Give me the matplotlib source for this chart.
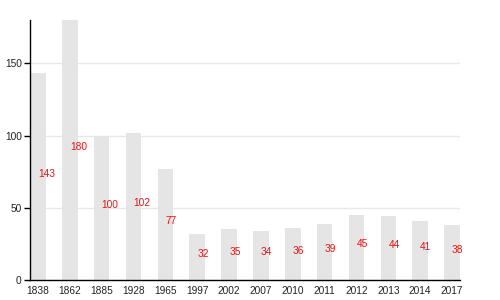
import matplotlib
matplotlib.use("Agg")
import matplotlib.pyplot as plt

years = ["1838", "1862", "1885", "1928", "1965", "1997", "2002", "2007",
         "2010", "2011", "2012", "2013", "2014", "2017"]
values = [143, 180, 100, 102, 77, 32, 35, 34, 36, 39, 45, 44, 41, 38]
yticks = [0, 50, 100, 150]

plt.rcParams['font.family'] = ['Liberation Sans', 'DejaVu Sans']

fig = plt.figure(figsize=(5, 3), dpi=100)
ax = fig.add_axes([0.06, 0.0667, 0.86, 0.8666])

x = list(range(len(years)))
ax.bar(x, values, width=0.49, color='#e5e5e5', zorder=2)
for xi, v in zip(x, values):
    ax.text(xi, v / 2, str(v), color='#f01010', fontsize=7.3,
            ha='left', va='baseline', zorder=3)

ax.set_xlim(-0.25, 13.25)
ax.set_ylim(0, 180)
ax.set_xticks(x)
ax.set_xticklabels(years)
ax.set_yticks(yticks)
ax.tick_params(axis='x', length=0, labelsize=7.3, pad=4, colors='#222222')
ax.tick_params(axis='y', length=4, width=1, labelsize=7.3, pad=2, colors='#222222')
ax.tick_params(axis='y', color='black')
ax.grid(axis='y', color='#e8e8e8', linewidth=1, zorder=1)
ax.set_axisbelow(True)
for s in ['top', 'right']:
    ax.spines[s].set_visible(False)
for s in ['left', 'bottom']:
    ax.spines[s].set_color('black')
    ax.spines[s].set_linewidth(1)

fig.savefig('out.png', dpi=100)
